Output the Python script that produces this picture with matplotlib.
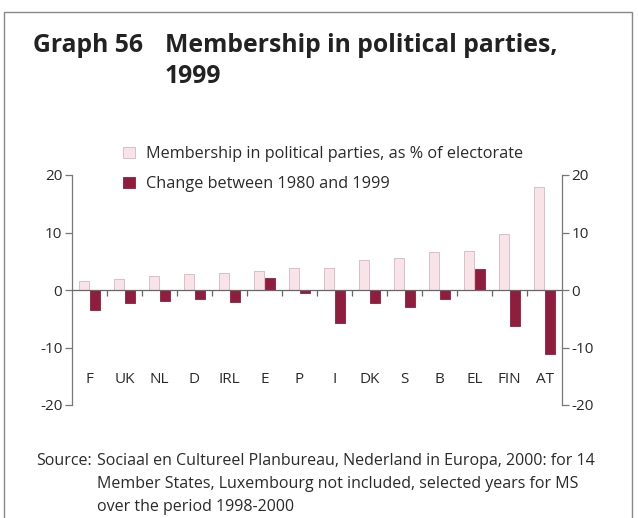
import numpy as np
from matplotlib import pyplot as plt
from matplotlib.patches import Rectangle

countries = ['F', 'UK', 'NL', 'D', 'IRL', 'E', 'P', 'I', 'DK', 'S', 'B', 'EL', 'FIN', 'AT']
membership = [1.5, 1.9, 2.5, 2.8, 3.0, 3.3, 3.9, 3.9, 5.2, 5.5, 6.6, 6.8, 9.7, 17.9]
change = [-3.5, -2.2, -1.9, -1.6, -2.0, 2.1, -0.5, -5.8, -2.2, -2.9, -1.6, 3.6, -6.2, -11.1]
yticks = [-20, -10, 0, 10, 20]

plt.rcParams['font.family'] = ['Open Sans', 'DejaVu Sans']
plt.rcParams['axes.unicode_minus'] = False

W, H = 638, 518
fig = plt.figure(figsize=(W / 100, H / 100), dpi=100)
fig.patch.set_facecolor('white')

# frame around the whole graph
fig.patches.append(Rectangle((4 / W, -0.1), 628 / W, 1.1 - 12 / H, transform=fig.transFigure,
                             fill=False, edgecolor='#888888', linewidth=1.0))

ax = fig.add_axes([72 / W, 113 / H, 490 / W, 230 / H])
x = np.arange(len(countries))
bw = 0.29
pink = '#f8e3e9'
red = '#8e1d3e'
ax.bar(x - 0.15, membership, bw, color=pink, edgecolor='#d9b5c1', linewidth=0.6,
       label='Membership in political parties, as % of electorate')
ax.bar(x + 0.15, change, bw, color=red, edgecolor=red, linewidth=0.6,
       label='Change between 1980 and 1999')

ax.set_xlim(-0.5, len(countries) - 0.5)
ax.set_ylim(-20, 20)
ax.axhline(0, color='#666666', linewidth=0.9, zorder=3)
ax.vlines(x[:-1] + 0.5, -1.1, 0, color='#666666', linewidth=0.9)

for s in ['top', 'bottom', 'right']:
    ax.spines[s].set_visible(False)
ax.spines['left'].set_color('#777777')
ax.spines['left'].set_linewidth(0.9)
ax.set_xticks([])
ax.set_yticks(yticks)
ax.tick_params(axis='y', length=5, width=0.9, color='#777777', labelsize=11, labelcolor='#2a2a2a', pad=2)

ax2 = ax.twinx()
ax2.set_ylim(-20, 20)
ax2.set_yticks(yticks)
for s in ['top', 'bottom', 'left']:
    ax2.spines[s].set_visible(False)
ax2.spines['right'].set_color('#777777')
ax2.spines['right'].set_linewidth(0.9)
ax2.tick_params(axis='y', length=5, width=0.9, color='#777777', labelsize=11, labelcolor='#2a2a2a', pad=2)

for i, c in enumerate(countries):
    ax.text(i, -15.6, c, ha='center', va='center', fontsize=11, color='#2a2a2a')

leg = ax.legend(loc='upper left', bbox_to_anchor=(0.075, 1.19), frameon=False, fontsize=11.7,
                handlelength=0.7, handleheight=0.7, handletextpad=0.7, labelspacing=0.86,
                labelcolor='#2a2a2a')

title_kw = dict(fontsize=17.8, fontweight='bold', color='#222222', va='baseline')
fig.text(33 / W, 1 - 52 / H, 'Graph 56', **title_kw)
fig.text(165 / W, 1 - 52 / H, 'Membership in political parties,', **title_kw)
fig.text(165 / W, 1 - 83 / H, '1999', **title_kw)

src_lines = ['Sociaal en Cultureel Planbureau, Nederland in Europa, 2000: for 14',
             'Member States, Luxembourg not included, selected years for MS',
             'over the period 1998-2000']
fig.text(92 / W, 1 - 465 / H, 'Source:', fontsize=11.5, color='#2a2a2a', va='baseline', ha='right')
for k, line in enumerate(src_lines):
    fig.text(97 / W, 1 - (465 + 23 * k) / H, line, fontsize=11.5, color='#2a2a2a', va='baseline')

fig.savefig('out.png', dpi=100)
